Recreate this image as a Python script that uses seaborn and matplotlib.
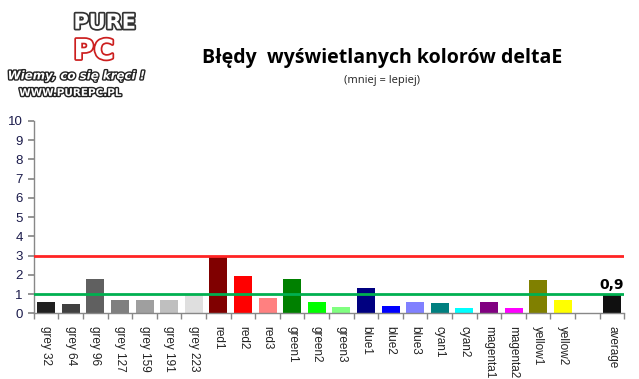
import numpy as np
import pandas as pd
import matplotlib
matplotlib.use("Agg")
import matplotlib.pyplot as plt
import matplotlib.patheffects as pe
import seaborn as sns

categories = ["grey 32", "grey 64", "grey 96", "grey 127", "grey 159", "grey 191", "grey 223",
              "red1", "red2", "red3", "green1", "green2", "green3", "blue1", "blue2", "blue3",
              "cyan1", "cyan2", "magenta1", "magenta2", "yellow1", "yellow2", "average"]
values = [0.6, 0.5, 1.8, 0.7, 0.7, 0.7, 0.95,
          2.95, 1.95, 0.8, 1.8, 0.6, 0.33, 1.32, 0.38, 0.6,
          0.55, 0.28, 0.6, 0.28, 1.74, 0.7, 0.95]
colors = ["#202020", "#404040", "#606060", "#7f7f7f", "#9f9f9f", "#bfbfbf", "#dfdfdf",
          "#800000", "#ff0000", "#ff8080", "#008000", "#00ff00", "#80ff80", "#000080", "#0000ff", "#8080ff",
          "#008080", "#00ffff", "#800080", "#ff00ff", "#808000", "#ffff00", "#101010"]
order = categories[:-1] + [" "] + ["average"]
average_label = "0,9"
red_limit = 3
green_limit = 1

sns.set_theme(style="white")
plt.rcParams['font.family'] = ['Liberation Sans', 'DejaVu Sans']

df = pd.DataFrame({"cat": categories, "val": values})

fig = plt.figure(figsize=(6.39, 3.79), dpi=100)
ax = fig.add_axes([0.053, 0.173, 0.924, 0.508])

sns.barplot(data=df, x="cat", y="val", hue="cat", order=order, hue_order=categories,
            palette=colors, width=0.73, saturation=1, legend=False, ax=ax, dodge=False,
            linewidth=0, edgecolor="none")

ax.set_xlim(-0.5, len(order) - 0.5)
ax.set_ylim(0, 10)
ax.set_yticks(range(0, 11))
ax.axhline(red_limit, color="#ff2424", lw=2, zorder=3)
ax.axhline(green_limit, color="#00b050", lw=2, zorder=3)

avg_pos = order.index("average")
ax.text(avg_pos, values[-1] + 0.15, average_label, ha="center", va="bottom",
        fontsize=10, fontweight="bold", color="black", family=["DejaVu Sans"])

ax.set_xlabel("")
ax.set_ylabel("")
for s in ["top", "right"]:
    ax.spines[s].set_visible(False)
for s in ["left", "bottom"]:
    ax.spines[s].set_color("#888888")
    ax.spines[s].set_linewidth(1)

ax.tick_params(axis="y", which="major", left=True, length=4, color="#888888",
               labelsize=9.5, labelcolor="#1a1a4a", pad=4)
ax.tick_params(axis="x", which="major", bottom=False, labelsize=8.5, labelcolor="#222222",
               labelrotation=-90, pad=3)
ax.set_xticks(np.arange(-0.5, len(order), 1), minor=True)
ax.tick_params(axis="x", which="minor", bottom=True, length=4, color="#888888", width=1)
for lbl in ax.get_xticklabels():
    lbl.set_va("top")
    lbl.set_ha("center")

# title
fig.text(0.598, 0.848, "Błędy  wyświetlanych kolorów deltaE", ha="center", va="center",
         fontsize=14, fontweight="bold", family=["Open Sans", "DejaVu Sans"], color="black")
fig.text(0.598, 0.787, "(mniej = lepiej)", ha="center", va="center",
         fontsize=8, family=["Open Sans", "DejaVu Sans"], color="#222222")

# logo as text
fig.text(0.115, 0.94, "PURE", ha="left", va="center", fontsize=15, fontweight="bold",
         color="white", family=["DejaVu Sans"],
         path_effects=[pe.withStroke(linewidth=2.5, foreground="#333333")])
fig.text(0.115, 0.865, "PC", ha="left", va="center", fontsize=20, fontweight="bold",
         color="white", family=["DejaVu Sans"],
         path_effects=[pe.withStroke(linewidth=2.5, foreground="#cc1f1f")])
fig.text(0.012, 0.80, "Wiemy, co się kręci !", ha="left", va="center", fontsize=8.5,
         fontweight="bold", fontstyle="italic", color="white", family=["DejaVu Sans"],
         path_effects=[pe.withStroke(linewidth=2, foreground="#222222")])
fig.text(0.03, 0.755, "WWW.PUREPC.PL", ha="left", va="center", fontsize=7.5,
         fontweight="bold", color="white", family=["DejaVu Sans"],
         path_effects=[pe.withStroke(linewidth=2, foreground="#222222")])

fig.savefig("out.png", dpi=100, facecolor="white")
